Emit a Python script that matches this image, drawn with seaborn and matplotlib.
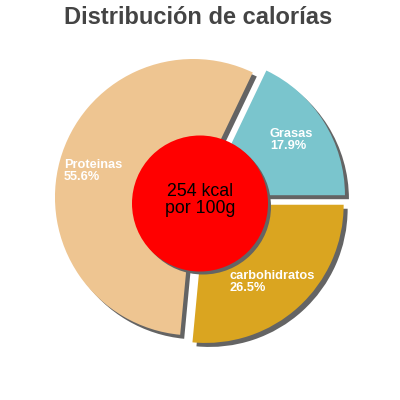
import matplotlib
matplotlib.use("Agg")
import matplotlib.pyplot as plt
import seaborn as sns
from matplotlib.patches import Circle

sns.set_theme(style="white")
plt.rcParams['font.family'] = ['Liberation Sans', 'DejaVu Sans']

# ---- data ----
categories = ["Grasas", "Proteinas", "carbohidratos"]
values = [17.9, 55.6, 26.5]
colors = ["#7AC5CD", "#EEC591", "#DAA520"]
pct_labels = ["17.9%", "55.6%", "26.5%"]
title = "Distribución de calorías"
center_text = "254 kcal\npor 100g"

# ---- layout (pixel coordinates, y measured from top) ----
W = H = 400
cx, cy = 200.4, 199.2
R = 138.2
explode_px = 7.5
shadow_dx, shadow_dy = 4, 4
label_pos = [(270, 140), (64, 170.5), (229, 282)]
circle_c = (200, 203.5)
circle_r = 68

fig = plt.figure(figsize=(4, 4), dpi=100)
ax = fig.add_axes([0, 0, 1, 1])

def Y(y):
    return H - y

explode = [explode_px] * len(values)
# shadow
ax.pie(values, explode=explode, colors=["#646464"] * len(values),
       startangle=0, counterclock=True, radius=R,
       center=(cx + shadow_dx, Y(cy + shadow_dy)), frame=True,
       wedgeprops=dict(linewidth=0))
# slices
ax.pie(values, explode=explode, colors=colors,
       startangle=0, counterclock=True, radius=R,
       center=(cx, Y(cy)), frame=True,
       wedgeprops=dict(linewidth=0))
ax.set_xlim(0, W)
ax.set_ylim(0, H)
ax.set_aspect('equal')
ax.axis('off')

for cat, pct, (lx, ly) in zip(categories, pct_labels, label_pos):
    ax.text(lx, Y(ly), f"{cat}\n{pct}", color="white", fontsize=9.2,
            fontweight="bold", ha="left", va="center", linespacing=1.0)

# center circle with shadow
ax.add_patch(Circle((circle_c[0] + 3, Y(circle_c[1] + 3)), circle_r,
                    color="#646464", lw=0, zorder=5))
ax.add_patch(Circle((circle_c[0], Y(circle_c[1])), circle_r,
                    color="#FF0000", lw=0, zorder=6))
ax.text(circle_c[0], Y(200), center_text, color="black", fontsize=12.8,
        ha="center", va="center", linespacing=1.0, zorder=7)

ax.text(198, Y(17), title, color="#444444", fontsize=17,
        fontweight="bold", ha="center", va="center")

fig.savefig("out.png", dpi=100)
